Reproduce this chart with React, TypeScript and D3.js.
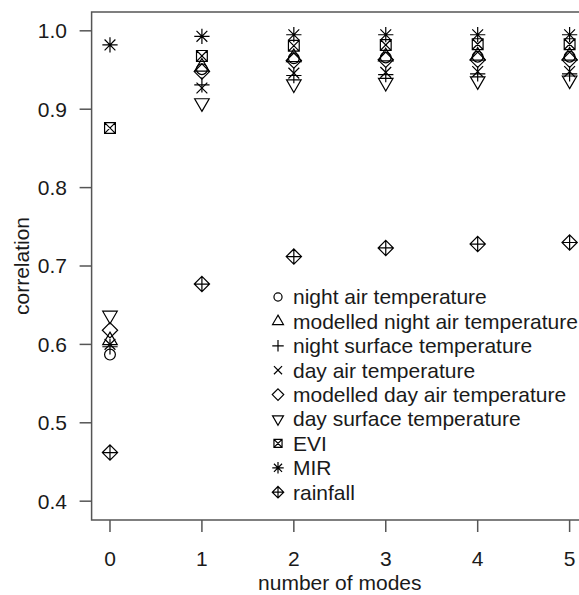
import React from "react";
import * as d3 from "d3";

const modes = [0, 1, 2, 3, 4, 5];
const xTicks = [0, 1, 2, 3, 4, 5];
const yTicks = [0.4, 0.5, 0.6, 0.7, 0.8, 0.9, 1.0];

const nightAir = [0.587, 0.951, 0.965, 0.966, 0.967, 0.967];
const modelledNightAir = [0.605, 0.954, 0.966, 0.967, 0.968, 0.968];
const nightSurface = [0.597, 0.931, 0.943, 0.944, 0.945, 0.945];
const dayAir = [0.600, 0.927, 0.946, 0.947, 0.948, 0.948];
const modelledDayAir = [0.618, 0.948, 0.962, 0.963, 0.963, 0.963];
const daySurface = [0.637, 0.908, 0.932, 0.934, 0.936, 0.937];
const evi = [0.876, 0.968, 0.981, 0.982, 0.983, 0.983];
const mir = [0.982, 0.993, 0.995, 0.995, 0.995, 0.995];
const rainfall = [0.462, 0.677, 0.712, 0.723, 0.728, 0.730];

const seriesNames = [
  "night air temperature",
  "modelled night air temperature",
  "night surface temperature",
  "day air temperature",
  "modelled day air temperature",
  "day surface temperature",
  "EVI",
  "MIR",
  "rainfall",
];
const seriesValues = [
  nightAir,
  modelledNightAir,
  nightSurface,
  dayAir,
  modelledDayAir,
  daySurface,
  evi,
  mir,
  rainfall,
];
const seriesPch = [1, 2, 3, 4, 5, 6, 7, 8, 9];

const W = 579;
const H = 595;
const FONT = "'Liberation Sans', Arial, sans-serif";

function Marker({ pch, x, y, r }: { pch: number; x: number; y: number; r: number }) {
  const s = { fill: "none", stroke: "#000", strokeWidth: 1.2 } as const;
  const t0 = 1.5551203;
  const tr = t0 * r;
  const thw = t0 * r * Math.sqrt(3) / 2;
  const tyc = t0 * r / 2;
  const d = Math.SQRT2 * r;
  switch (pch) {
    case 1:
      return <circle cx={x} cy={y} r={r} {...s} />;
    case 2:
      return <path d={`M${x},${y - tr}L${x + thw},${y + tyc}L${x - thw},${y + tyc}Z`} {...s} />;
    case 6:
      return <path d={`M${x},${y + tr}L${x + thw},${y - tyc}L${x - thw},${y - tyc}Z`} {...s} />;
    case 3:
      return <path d={`M${x - d},${y}H${x + d}M${x},${y - d}V${y + d}`} {...s} />;
    case 4:
      return <path d={`M${x - r},${y - r}L${x + r},${y + r}M${x - r},${y + r}L${x + r},${y - r}`} {...s} />;
    case 5:
      return <path d={`M${x},${y - d}L${x + d},${y}L${x},${y + d}L${x - d},${y}Z`} {...s} />;
    case 7:
      return (
        <path
          d={`M${x - r},${y - r}H${x + r}V${y + r}H${x - r}ZM${x - r},${y - r}L${x + r},${y + r}M${x - r},${y + r}L${x + r},${y - r}`}
          {...s}
        />
      );
    case 8:
      return (
        <path
          d={`M${x - d},${y}H${x + d}M${x},${y - d}V${y + d}M${x - r},${y - r}L${x + r},${y + r}M${x - r},${y + r}L${x + r},${y - r}`}
          {...s}
        />
      );
    case 9:
      return (
        <path
          d={`M${x},${y - d}L${x + d},${y}L${x},${y + d}L${x - d},${y}ZM${x - d},${y}H${x + d}M${x},${y - d}V${y + d}`}
          {...s}
        />
      );
    default:
      return null;
  }
}

export default function App() {
  const x = d3.scaleLinear().domain([-0.2, 5.2]).range([91.6, 588]);
  const y = d3.scaleLinear().domain([0.376, 1.024]).range([520, 12]);
  const left = x(-0.2);
  const right = x(5.2);
  const top = y(1.024);
  const bottom = y(0.376);
  const axisColor = "#555";
  const textColor = "#1a1a1a";
  const fs = 21;
  const R = 5.4;

  const legX = 278;
  const legTextX = 293;
  const legY0 = 297;
  const legStep = 24.4;

  return (
    <svg
      width={W}
      height={H}
      style={{ position: "absolute", left: 0, top: 0, background: "#fff" }}
      fontFamily={FONT}
    >
      <rect x={0} y={0} width={W} height={H} fill="#fff" />
      <rect x={left} y={top} width={right - left} height={bottom - top} fill="none" stroke={axisColor} strokeWidth={1.5} />
      {xTicks.map((t) => (
        <g key={"xt" + t}>
          <line x1={x(t)} x2={x(t)} y1={bottom} y2={bottom + 12} stroke={axisColor} strokeWidth={1.5} />
          <text x={x(t)} y={566} fontSize={fs} textAnchor="middle" fill={textColor}>
            {t}
          </text>
        </g>
      ))}
      {yTicks.map((t) => (
        <g key={"yt" + t}>
          <line x1={left - 12} x2={left} y1={y(t)} y2={y(t)} stroke={axisColor} strokeWidth={1.5} />
          <text x={67} y={y(t)} dy="0.35em" fontSize={fs} textAnchor="end" fill={textColor}>
            {t.toFixed(1)}
          </text>
        </g>
      ))}
      <text x={(left + right) / 2} y={590} fontSize={fs} textAnchor="middle" fill={textColor}>
        number of modes
      </text>
      <text
        transform={`translate(29,${(top + bottom) / 2}) rotate(-90)`}
        fontSize={fs}
        textAnchor="middle"
        fill={textColor}
      >
        correlation
      </text>
      {seriesValues.map((vals, i) =>
        vals.map((v, j) => (
          <Marker key={`p${i}-${j}`} pch={seriesPch[i]} x={x(modes[j])} y={y(v)} r={R} />
        ))
      )}
      {seriesNames.map((name, i) => (
        <g key={"lg" + i}>
          <Marker pch={seriesPch[i]} x={legX} y={legY0 + i * legStep} r={R * 0.75} />
          <text x={legTextX} y={legY0 + i * legStep} dy="0.35em" fontSize={fs} fill={textColor}>
            {name}
          </text>
        </g>
      ))}
    </svg>
  );
}
